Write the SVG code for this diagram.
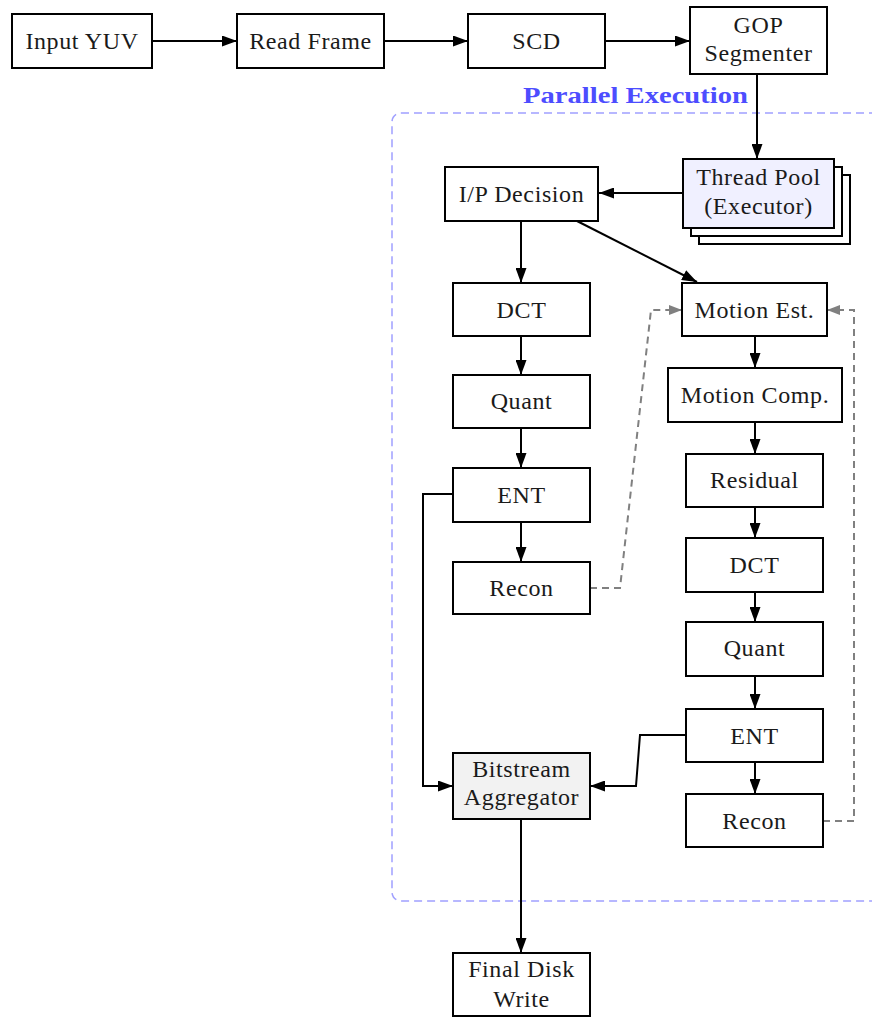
<svg xmlns="http://www.w3.org/2000/svg" width="872" height="1017" viewBox="0 0 872 1017">
<style>
.box{fill:#fff;stroke:#000;stroke-width:2}
.tp{fill:#f0f0ff;stroke:#000;stroke-width:2}
.agg{fill:#f2f2f2;stroke:#000;stroke-width:2}
text{font-family:"Liberation Serif","Times New Roman",serif;font-size:24px;letter-spacing:0.6px;fill:#1a1a1a;text-anchor:middle}
.lbl{font-weight:bold;fill:#4d4dff;text-anchor:start;font-size:23px;letter-spacing:0}
.c{fill:none;stroke:#000;stroke-width:2}
.d{fill:none;stroke:#808080;stroke-width:2;stroke-dasharray:7,5}
</style>
<defs>
<marker id="a" markerUnits="userSpaceOnUse" markerWidth="15" markerHeight="11" refX="15" refY="5.5" orient="auto"><path d="M0,0 L15,5.5 L0,11 z" fill="#000"/></marker>
<marker id="g" markerUnits="userSpaceOnUse" markerWidth="13" markerHeight="10" refX="13" refY="5" orient="auto"><path d="M0,0 L13,5 L0,10 z" fill="#808080"/></marker>
</defs>
<g id="container">
<rect x="392" y="113" width="520" height="788" rx="9" fill="none" stroke="#a0a0ff" stroke-width="1.5" stroke-dasharray="8,5"/>
<text class="lbl" x="523" y="103" textLength="225" lengthAdjust="spacingAndGlyphs">Parallel Execution</text>
</g>
<g id="connectors">
<path class="c" d="M152,41 H237" marker-end="url(#a)"/>
<path class="c" d="M384,41 H468" marker-end="url(#a)"/>
<path class="c" d="M605,41 H690" marker-end="url(#a)"/>
<path class="c" d="M757,74 V159" marker-end="url(#a)"/>
<path class="c" d="M683,193 H599" marker-end="url(#a)"/>
<path class="c" d="M521,221 V283" marker-end="url(#a)"/>
<path class="c" d="M577,221 L697,282" marker-end="url(#a)"/>
<path class="c" d="M521,336 V375" marker-end="url(#a)"/>
<path class="c" d="M521,428 V468" marker-end="url(#a)"/>
<path class="c" d="M521,522 V562" marker-end="url(#a)"/>
<path class="c" d="M755,336 V368" marker-end="url(#a)"/>
<path class="c" d="M755,422 V454" marker-end="url(#a)"/>
<path class="c" d="M755,507 V538" marker-end="url(#a)"/>
<path class="c" d="M755,592 V622" marker-end="url(#a)"/>
<path class="c" d="M755,676 V709" marker-end="url(#a)"/>
<path class="c" d="M755,762 V794" marker-end="url(#a)"/>
<path class="c" d="M453,494 H423 V786 H453" marker-end="url(#a)"/>
<path class="c" d="M686,735 H640 L636,786 H590" marker-end="url(#a)"/>
<path class="c" d="M521,819 V953" marker-end="url(#a)"/>
<path class="d" d="M590,588 H620 L651,310 H682" marker-end="url(#g)"/>
<path class="d" d="M823,821 H854 V310 H827" marker-end="url(#g)"/>
</g>
<g id="input"><rect class="box" x="12" y="14" width="140" height="54"/><text x="82" y="49">Input YUV</text></g>
<g id="read"><rect class="box" x="237" y="14" width="147" height="54"/><text x="310.5" y="49">Read Frame</text></g>
<g id="scd"><rect class="box" x="468" y="14" width="137" height="54"/><text x="536.5" y="49">SCD</text></g>
<g id="gop"><rect class="box" x="690" y="7" width="137" height="67"/><text x="758.5" y="33">GOP</text><text x="758.5" y="61">Segmenter</text></g>
<g id="threadpool">
<rect class="box" x="699" y="175" width="151" height="69"/>
<rect class="box" x="691" y="167" width="151" height="69"/>
<rect class="tp" x="683" y="159" width="151" height="69"/>
<text x="758.5" y="185">Thread Pool</text><text x="758.5" y="214">(Executor)</text>
</g>
<g id="ipdecision"><rect class="box" x="445" y="167" width="153" height="54"/><text x="521.5" y="202">I/P Decision</text></g>
<g id="dct_i"><rect class="box" x="453" y="283" width="137" height="53"/><text x="521.5" y="318">DCT</text></g>
<g id="quant_i"><rect class="box" x="453" y="375" width="137" height="53"/><text x="521.5" y="409">Quant</text></g>
<g id="ent_i"><rect class="box" x="453" y="468" width="137" height="54"/><text x="521.5" y="503">ENT</text></g>
<g id="recon_i"><rect class="box" x="453" y="562" width="137" height="52"/><text x="521.5" y="596">Recon</text></g>
<g id="me"><rect class="box" x="682" y="283" width="145" height="53"/><text x="754.5" y="318">Motion Est.</text></g>
<g id="mc"><rect class="box" x="668" y="368" width="174" height="54"/><text x="755" y="403">Motion Comp.</text></g>
<g id="residual"><rect class="box" x="686" y="454" width="137" height="53"/><text x="754.5" y="488">Residual</text></g>
<g id="dct_p"><rect class="box" x="686" y="538" width="137" height="54"/><text x="754.5" y="573">DCT</text></g>
<g id="quant_p"><rect class="box" x="686" y="622" width="137" height="54"/><text x="754.5" y="656">Quant</text></g>
<g id="ent_p"><rect class="box" x="686" y="709" width="137" height="53"/><text x="754.5" y="744">ENT</text></g>
<g id="recon_p"><rect class="box" x="686" y="794" width="137" height="53"/><text x="754.5" y="829">Recon</text></g>
<g id="aggregator"><rect class="agg" x="453" y="753" width="137" height="66"/><text x="521.5" y="777">Bitstream</text><text x="521.5" y="805">Aggregator</text></g>
<g id="final"><rect class="box" x="453" y="953" width="137" height="63"/><text x="521.5" y="977">Final Disk</text><text x="521.5" y="1007">Write</text></g>
</svg>
